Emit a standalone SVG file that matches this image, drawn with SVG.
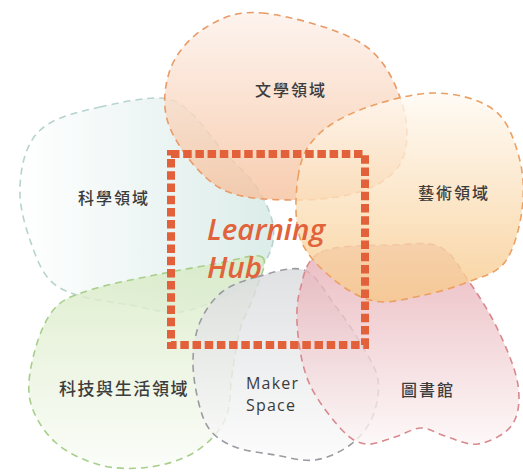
<svg xmlns="http://www.w3.org/2000/svg" width="523" height="474" viewBox="0 0 523 474">
<defs>
<linearGradient id="gTeal" x1="0" y1="0" x2="1" y2="0"><stop offset="0" stop-color="#ffffff"/><stop offset="1" stop-color="#d3e8e4"/></linearGradient>
<linearGradient id="gOrange" x1="0" y1="0" x2="0" y2="1"><stop offset="0" stop-color="#fdf1ea"/><stop offset="1" stop-color="#f6c19d"/></linearGradient>
<linearGradient id="gGreen" x1="0" y1="0" x2="0" y2="1"><stop offset="0" stop-color="#d6e9c1"/><stop offset="1" stop-color="#fafcf7"/></linearGradient>
<linearGradient id="gMaker" x1="0" y1="0" x2="0" y2="1"><stop offset="0" stop-color="#d9dadd"/><stop offset="1" stop-color="#fbfbfb"/></linearGradient>
<linearGradient id="gLib" x1="0" y1="0" x2="0" y2="1"><stop offset="0" stop-color="#e5aab1"/><stop offset="1" stop-color="#fdf6f6"/></linearGradient>
<linearGradient id="gArt" x1="0" y1="0" x2="0" y2="1"><stop offset="0" stop-color="#fffaf3"/><stop offset="1" stop-color="#f7c888"/></linearGradient>
</defs>
<style>
.blob{stroke-width:1.6;stroke-dasharray:7 5;fill-opacity:0.8}
.lbl{font-family:"Noto Sans CJK TC","Noto Sans CJK SC",sans-serif;font-size:16px;font-weight:500;letter-spacing:2px;fill:#3c3c3c;text-anchor:middle}
.en{font-family:"Open Sans","Noto Sans",sans-serif;font-size:16px;letter-spacing:1.2px;fill:#3c3c3c}
.hub{font-family:"Open Sans","Noto Sans",sans-serif;font-style:italic;font-weight:600;font-size:29.5px;fill:#e0633b}
</style>
<rect width="523" height="474" fill="#ffffff"/>
<g id="science">
<path class="blob" fill="url(#gTeal)" stroke="#b7d3cf" d="M100,107 C118.3,102.8 145,97.2 160,98 C175,98.8 179.7,103.3 190,112 C200.3,120.7 211.2,137.8 222,150 C232.8,162.2 246.5,172.5 255,185 C263.5,197.5 271.2,212.5 273,225 C274.8,237.5 272.8,248.8 266,260 C259.2,271.2 246.3,283.3 232,292 C217.7,300.7 197,309.8 180,312 C163,314.2 147.2,307.8 130,305 C112.8,302.2 90.7,299.5 77,295 C63.3,290.5 55.8,287.2 48,278 C40.2,268.8 34.7,253.8 30,240 C25.3,226.2 20.5,210 20,195 C19.5,180 22,162 27,150 C32,138 37.8,130.2 50,123 C62.2,115.8 81.7,111.2 100,107 Z"/>
<text class="lbl" x="114" y="204">科學領域</text>
</g>
<g id="literature">
<path class="blob" fill="url(#gOrange)" stroke="#ea9a66" d="M262,13 C288,15.5 337.8,28.5 361,43 C384.2,57.5 394,80.8 401,100 C408,119.2 409,143 403,158 C397,173 383,183 365,190 C347,197 319.2,200.3 295,200 C270.8,199.7 240.8,200 220,188 C199.2,176 178.3,147.7 170,128 C161.7,108.3 164.2,86.7 170,70 C175.8,53.3 189.7,37.5 205,28 C220.3,18.5 236,10.5 262,13 Z"/>
<text class="lbl" x="291" y="96">文學領域</text>
</g>
<g id="tech">
<path class="blob" fill="url(#gGreen)" stroke="#a7cf8b" d="M262,257 C268.8,261.3 259.7,277.8 256,290 C252.3,302.2 244,315.8 240,330 C236,344.2 234.5,360 232,375 C229.5,390 231.2,407.2 225,420 C218.8,432.8 207.5,444.2 195,452 C182.5,459.8 165.8,464.8 150,467 C134.2,469.2 115.8,469.2 100,465 C84.2,460.8 66.7,452.8 55,442 C43.3,431.2 33.3,415.3 30,400 C26.7,384.7 30.8,365.3 35,350 C39.2,334.7 45.8,318 55,308 C64.2,298 74.2,295.3 90,290 C105.8,284.7 129.2,280.3 150,276 C170.8,271.7 196.3,267.2 215,264 C233.7,260.8 255.2,252.7 262,257 Z"/>
<text class="lbl" x="124" y="395" style="font-size:17px;letter-spacing:1.6px">科技與生活領域</text>
</g>
<g id="maker">
<path class="blob" fill="url(#gMaker)" stroke="#9a9ca1" d="M257,277 C270.7,273.3 291.2,265.5 304,270 C316.8,274.5 324.5,291.7 334,304 C343.5,316.3 353.7,331.3 361,344 C368.3,356.7 376.2,367.7 378,380 C379.8,392.3 376.7,407.2 372,418 C367.3,428.8 359.5,438 350,445 C340.5,452 327.5,458.3 315,460 C302.5,461.7 288.3,457.2 275,455 C261.7,452.8 245.8,451.2 235,447 C224.2,442.8 216.2,437.8 210,430 C203.8,422.2 200.8,411.7 198,400 C195.2,388.3 192.7,373 193,360 C193.3,347 195.2,333.3 200,322 C204.8,310.7 212.5,299.5 222,292 C231.5,284.5 243.3,280.7 257,277 Z"/>
<text class="en" x="246" y="389">Maker</text>
<text class="en" x="246" y="411">Space</text>
</g>
<g id="library">
<path class="blob" fill="url(#gLib)" stroke="#d8898e" d="M321,252 C336.7,244.5 374.2,245.8 394,245 C413.8,244.2 427.7,241.2 440,247 C452.3,252.8 458.3,266.2 468,280 C477.7,293.8 489.7,312.5 498,330 C506.3,347.5 515.7,369.2 518,385 C520.3,400.8 518.7,415.2 512,425 C505.3,434.8 489.2,442.2 478,444 C466.8,445.8 454.5,438.7 445,436 C435.5,433.3 429.3,427.8 421,428 C412.7,428.2 404.2,434.3 395,437 C385.8,439.7 374.8,445.2 366,444 C357.2,442.8 351.3,439.8 342,430 C332.7,420.2 317.3,400.8 310,385 C302.7,369.2 299.7,350.8 298,335 C296.3,319.2 296.2,303.8 300,290 C303.8,276.2 305.3,259.5 321,252 Z"/>
<text class="lbl" x="428" y="396">圖書館</text>
</g>
<g id="arts">
<path class="blob" fill="url(#gArt)" stroke="#eca064" d="M298,177 C300.5,160.3 304.7,149.2 315,138 C325.3,126.8 340.2,117.5 360,110 C379.8,102.5 411.7,93 434,93 C456.3,93 479.8,99.3 494,110 C508.2,120.7 514.3,140.3 519,157 C523.7,173.7 524.3,192.5 522,210 C519.7,227.5 514,250 505,262 C496,274 482.2,276.3 468,282 C453.8,287.7 435.7,292.8 420,296 C404.3,299.2 388.7,304 374,301 C359.3,298 344.3,288.5 332,278 C319.7,267.5 305.7,254.8 300,238 C294.3,221.2 295.5,193.7 298,177 Z"/>
<text class="lbl" x="454" y="199">藝術領域</text>
</g>
<g id="hub">
<rect x="171" y="154" width="194" height="191" fill="none" stroke="#e2603a" stroke-width="8" stroke-dasharray="8.5 3.7"/>
<text class="hub" x="207" y="240">Learning</text>
<text class="hub" x="207" y="278">Hub</text>
</g>
<g id="connectors"/>
</svg>
